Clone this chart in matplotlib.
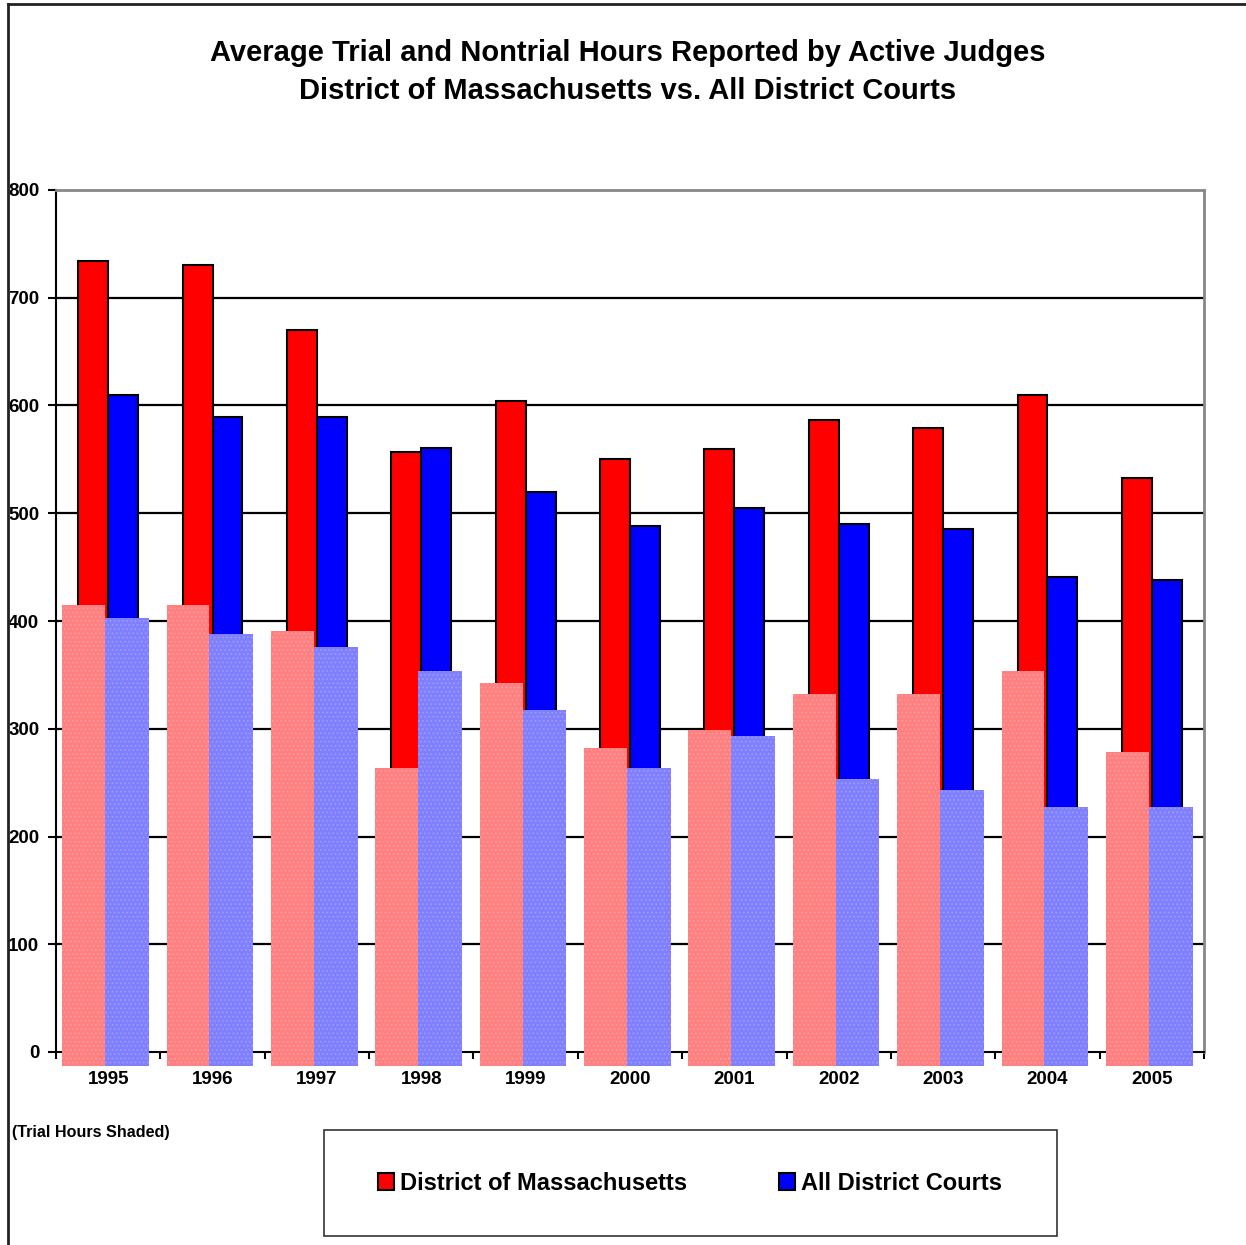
import matplotlib
matplotlib.use("Agg")
import matplotlib.pyplot as plt
from matplotlib.patches import Rectangle, Patch
from matplotlib.lines import Line2D
import numpy as np

years = ["1995", "1996", "1997", "1998", "1999", "2000", "2001", "2002", "2003", "2004", "2005"]
mass_total = [734, 730, 670, 557, 604, 550, 560, 587, 579, 610, 533]
all_total = [610, 589, 589, 561, 520, 488, 505, 490, 485, 441, 438]
mass_trial = [415, 415, 391, 264, 342, 282, 299, 332, 332, 354, 278]
all_trial = [403, 388, 376, 354, 317, 264, 293, 253, 243, 227, 227]
yticks = [0, 100, 200, 300, 400, 500, 600, 700, 800]
title1 = "Average Trial and Nontrial Hours Reported by Active Judges"
title2 = "District of Massachusetts vs. All District Courts"
series_names = ["District of Massachusetts", "All District Courts"]
note = "(Trial Hours Shaded)"

W, H = 1246, 1245
plt.rcParams['font.family'] = ['Liberation Sans', 'DejaVu Sans']
fig = plt.figure(figsize=(W / 100, H / 100), dpi=100)
fig.patch.set_facecolor('white')

ax = fig.add_axes([56 / W, 1 - 1052 / H, 1148 / W, 862 / H])
x = np.arange(len(years))
bw = 0.287
ax.bar(x - bw / 2, mass_total, width=bw, color='#ff0000', edgecolor='black', linewidth=1.5, zorder=2)
ax.bar(x + bw / 2, all_total, width=bw, color='#0000ff', edgecolor='black', linewidth=1.5, zorder=2)

plt.rcParams['hatch.linewidth'] = 0.6
base = -13
ax.bar(x - 0.235, np.array(mass_trial) - base, width=0.41, bottom=base,
       color='#ff8080', edgecolor='#ffa0a0', linewidth=0, hatch='....', zorder=3, clip_on=False)
ax.bar(x + 0.18, np.array(all_trial) - base, width=0.42, bottom=base,
       color='#8080ff', edgecolor='#a0a0ff', linewidth=0, hatch='....', zorder=4, clip_on=False)

ax.set_xlim(-0.5, len(years) - 0.5)
ax.set_ylim(0, 800)
ax.set_yticks(yticks)
ax.set_yticklabels([str(v) for v in yticks], fontsize=13.5, fontweight='bold')
ax.set_xticks(x)
ax.set_xticklabels(years, fontsize=13.5, fontweight='bold')
ax.set_xticks(np.arange(len(years) + 1) - 0.5, minor=True)
ax.tick_params(axis='x', which='major', length=0, pad=14)
ax.tick_params(axis='x', which='minor', length=5, width=1.5, direction='out')
ax.tick_params(axis='y', length=6, width=1.5, direction='out', pad=6)
for v in yticks[1:-1]:
    ax.axhline(v, color='black', linewidth=1.6, zorder=1)
for s in ['left', 'bottom']:
    ax.spines[s].set_color('black')
    ax.spines[s].set_linewidth(1.5)
for s in ['top', 'right']:
    ax.spines[s].set_color('#888888')
    ax.spines[s].set_linewidth(2)
ax.spines['bottom'].set_zorder(2.5)

fig.text(628 / W, 1 - 53 / H, title1, ha='center', va='center', fontsize=21, fontweight='bold')
fig.text(628 / W, 1 - 91 / H, title2, ha='center', va='center', fontsize=21, fontweight='bold')
fig.text(12 / W, 1 - 1132 / H, note, ha='left', va='center', fontsize=11.6, fontweight='bold')

# figure border
fig.add_artist(Line2D([8 / W, 8 / W], [0, 1 - 4 / H], transform=fig.transFigure, color='#222222', lw=2))
fig.add_artist(Line2D([8 / W, 1], [1 - 4 / H, 1 - 4 / H], transform=fig.transFigure, color='#222222', lw=2))

# legend box
fig.add_artist(Rectangle((324 / W, 1 - 1236 / H), 733 / W, 106 / H, transform=fig.transFigure,
                         facecolor='white', edgecolor='#333333', linewidth=1.2))
handles = [Patch(facecolor='#ff0000', edgecolor='black', linewidth=1.5),
           Patch(facecolor='#0000ff', edgecolor='black', linewidth=1.5)]
fig.legend(handles, series_names, loc='center', bbox_to_anchor=(690 / W, 1 - 1183 / H),
           ncol=2, frameon=False, prop={'weight': 'bold', 'size': 17},
           handlelength=0.68, handleheight=0.72, handletextpad=0.25, columnspacing=3.9)

fig.savefig('out.png', dpi=100, facecolor='white')
